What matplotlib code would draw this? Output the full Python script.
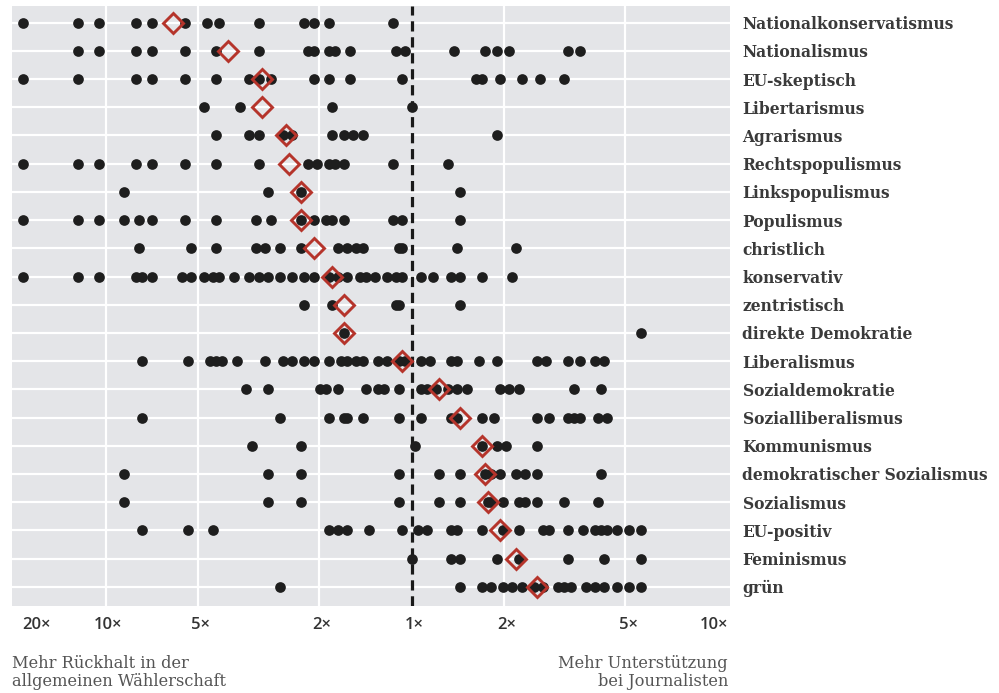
import numpy as np
import matplotlib.pyplot as plt

# Werte: log10(Unterstützung bei Journalisten / Rückhalt in der Wählerschaft), je Partei
nationalkonservatismus = [-1.27, -1.09, -1.02, -0.90, -0.85, -0.74, -0.67, -0.63, -0.50, -0.35, -0.32, -0.27, -0.06]
nationalismus = [-1.09, -1.02, -0.90, -0.85, -0.74, -0.64, -0.50, -0.34, -0.32, -0.27, -0.25, -0.20,
                 -0.05, -0.02, 0.14, 0.24, 0.28, 0.32, 0.51, 0.55]
eu_skeptisch = [-1.27, -1.09, -0.90, -0.85, -0.74, -0.64, -0.53, -0.50, -0.46, -0.32, -0.27, -0.20,
                -0.03, 0.21, 0.23, 0.29, 0.36, 0.42, 0.50]
libertarismus = [-0.68, -0.56, -0.26, 0.00]
agrarismus = [-0.64, -0.53, -0.50, -0.42, -0.39, -0.26, -0.22, -0.19, -0.16, 0.28]
rechtspopulismus = [-1.27, -1.09, -1.02, -0.90, -0.85, -0.74, -0.64, -0.50, -0.34, -0.31, -0.27, -0.25,
                    -0.22, -0.06, 0.12]
linkspopulismus = [-0.94, -0.47, -0.36, 0.16]
populismus = [-1.27, -1.09, -1.02, -0.94, -0.89, -0.85, -0.74, -0.64, -0.51, -0.46, -0.36, -0.32,
              -0.28, -0.26, -0.22, -0.06, -0.03, 0.16]
christlich = [-0.89, -0.72, -0.64, -0.51, -0.48, -0.43, -0.36, -0.24, -0.21, -0.18, -0.16, -0.04,
              -0.03, 0.15, 0.34]
konservativ = [-1.27, -1.09, -1.02, -0.90, -0.88, -0.85, -0.75, -0.72, -0.68, -0.65, -0.63, -0.58,
               -0.53, -0.50, -0.47, -0.43, -0.39, -0.35, -0.32, -0.27, -0.24, -0.21, -0.17, -0.15,
               -0.12, -0.08, -0.05, -0.03, 0.03, 0.07, 0.13, 0.16, 0.23, 0.33]
zentristisch = [-0.35, -0.26, -0.05, -0.04, 0.16]
direkte_demokratie = [-0.22, 0.75]
liberalismus = [-0.88, -0.73, -0.66, -0.64, -0.62, -0.57, -0.48, -0.42, -0.39, -0.35, -0.32, -0.27,
                -0.23, -0.21, -0.18, -0.16, -0.11, -0.08, -0.04, -0.02, 0.03, 0.06, 0.13, 0.15,
                0.22, 0.28, 0.41, 0.44, 0.51, 0.55, 0.60, 0.63]
sozialdemokratie = [-0.54, -0.47, -0.30, -0.28, -0.24, -0.15, -0.11, -0.09, -0.04, 0.03, 0.05, 0.08,
                    0.12, 0.15, 0.18, 0.29, 0.32, 0.35, 0.53, 0.62]
sozialliberalismus = [-0.88, -0.43, -0.27, -0.22, -0.21, -0.16, -0.04, 0.03, 0.13, 0.15, 0.23, 0.27,
                      0.41, 0.45, 0.51, 0.53, 0.55, 0.61, 0.64]
kommunismus = [-0.52, -0.36, 0.01, 0.23, 0.28, 0.31, 0.41]
dem_sozialismus = [-0.94, -0.47, -0.36, -0.04, 0.09, 0.16, 0.24, 0.26, 0.29, 0.34, 0.37, 0.41, 0.62]
sozialismus = [-0.94, -0.47, -0.36, -0.04, 0.09, 0.16, 0.25, 0.26, 0.30, 0.35, 0.37, 0.41, 0.50, 0.61]
eu_positiv = [-0.88, -0.73, -0.65, -0.27, -0.24, -0.21, -0.14, -0.03, 0.02, 0.05, 0.13, 0.15, 0.23,
              0.30, 0.35, 0.43, 0.45, 0.51, 0.56, 0.60, 0.62, 0.64, 0.67, 0.71, 0.75]
feminismus = [0.00, 0.13, 0.16, 0.28, 0.35, 0.51, 0.63, 0.75]
gruen = [-0.43, 0.16, 0.23, 0.26, 0.30, 0.33, 0.36, 0.40, 0.43, 0.48, 0.50, 0.52, 0.57, 0.60, 0.63,
         0.67, 0.71, 0.75]

# Mittelwert je Ideologie (rote Raute)
mittelwerte = [-0.78, -0.60, -0.49, -0.49, -0.41, -0.40, -0.36, -0.36, -0.32, -0.26, -0.22, -0.22,
               -0.03, 0.09, 0.16, 0.23, 0.24, 0.25, 0.29, 0.34, 0.41]

categories = ['Nationalkonservatismus', 'Nationalismus', 'EU-skeptisch', 'Libertarismus',
              'Agrarismus', 'Rechtspopulismus', 'Linkspopulismus', 'Populismus', 'christlich',
              'konservativ', 'zentristisch', 'direkte Demokratie', 'Liberalismus',
              'Sozialdemokratie', 'Sozialliberalismus', 'Kommunismus',
              'demokratischer Sozialismus', 'Sozialismus', 'EU-positiv', 'Feminismus', 'grün']
series = [nationalkonservatismus, nationalismus, eu_skeptisch, libertarismus, agrarismus,
          rechtspopulismus, linkspopulismus, populismus, christlich, konservativ, zentristisch,
          direkte_demokratie, liberalismus, sozialdemokratie, sozialliberalismus, kommunismus,
          dem_sozialismus, sozialismus, eu_positiv, feminismus, gruen]

tick_factors = [1 / 20, 1 / 10, 1 / 5, 1 / 2, 1, 2, 5, 10]
tick_labels = ['20×', '10×', '5×', '2×', '1×', '2×', '5×', '10×']
grid_factors = [1 / 10, 1 / 5, 1 / 2, 2, 5]

fig = plt.figure(figsize=(9.99, 6.93), dpi=100)
ax = fig.add_axes([12 / 999, 1 - 606 / 693, 718 / 999, 600 / 693])
ax.set_facecolor('#e4e5e8')

for g in grid_factors:
    ax.axvline(np.log10(g), color='white', lw=1.6, zorder=1)
for i in range(len(categories)):
    ax.axhline(i, color='white', lw=1.6, zorder=1)

ax.axvline(0, color='#1a1a1a', lw=2.3, ls=(0, (3.2, 1.8)), zorder=2)

for i, vals in enumerate(series):
    ax.plot(vals, [i] * len(vals), 'o', ms=7.7, color='#1e1e1e', mec='none', zorder=3)
ax.plot(mittelwerte, range(len(categories)), 'D', ms=10, mfc='none', mec='#b5342b', mew=2.1,
        zorder=4)

ax.set_xlim(-1.306, 1.041)
ax.set_ylim(20.68, -0.59)
for s in ax.spines.values():
    s.set_visible(False)

ax.set_xticks([])
ax.yaxis.tick_right()
ax.set_yticks(range(len(categories)), categories)
ax.tick_params(axis='y', length=0, pad=9)
for t in ax.get_yticklabels():
    t.set_fontfamily('DejaVu Serif')
    t.set_fontweight('bold')
    t.set_fontsize(11.2)
    t.set_color('#3a3a3a')

for k, (f, lab) in enumerate(zip(tick_factors, tick_labels)):
    ha, dx = 'center', 2
    if k == 0:
        ha, dx = 'left', 6
    elif k == len(tick_factors) - 1:
        ha, dx = 'right', 8
    ax.annotate(lab, (np.log10(f), 0), xycoords=('data', 'axes fraction'), xytext=(dx, -14),
                textcoords='offset points', ha=ha, va='center', fontsize=12,
                family='Open Sans', fontweight='semibold', color='#333333')

fig.text(12 / 999, 1 - 655 / 693, 'Mehr Rückhalt in der\nallgemeinen Wählerschaft', ha='left',
         va='top', fontsize=11.7, family='DejaVu Serif', color='#555555', linespacing=1.1)
fig.text(728 / 999, 1 - 655 / 693, 'Mehr Unterstützung\nbei Journalisten', ha='right', va='top',
         fontsize=11.7, family='DejaVu Serif', color='#555555', linespacing=1.1,
         multialignment='right')

fig.savefig('out.png', dpi=100)
